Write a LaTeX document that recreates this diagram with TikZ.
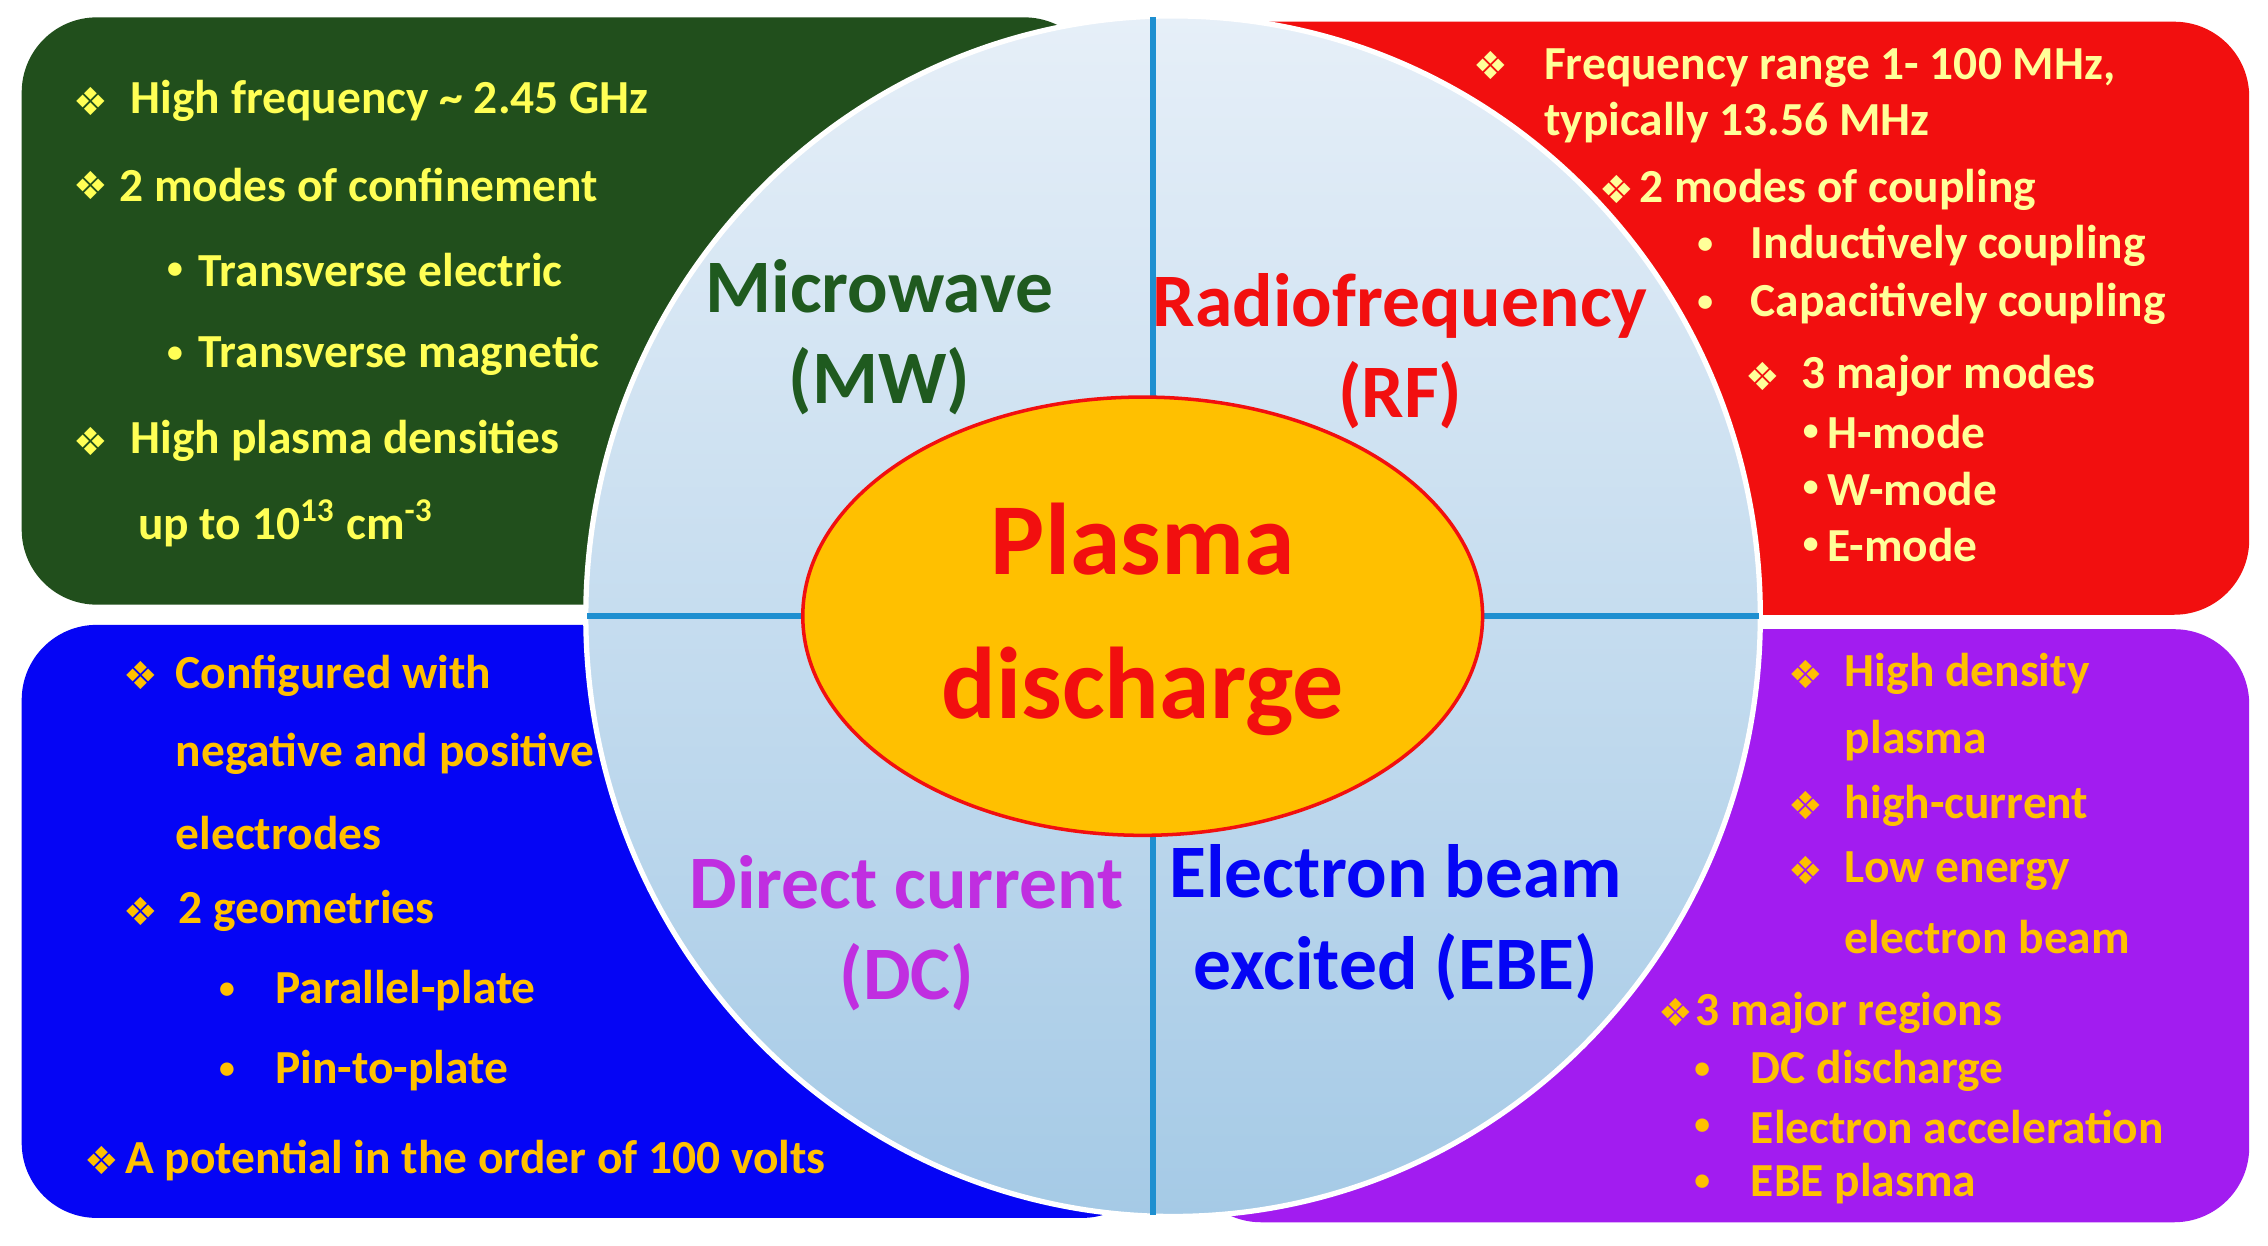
\documentclass[tikz,border=0pt]{standalone}
\usepackage{fontspec}
\setmainfont{Carlito}
\newfontfamily\djv{DejaVu Sans}
\usetikzlibrary{shapes.geometric}
\definecolor{gbox}{HTML}{214F1C}
\definecolor{rbox}{HTML}{F20F0F}
\definecolor{bbox}{HTML}{0505F5}
\definecolor{pbox}{HTML}{A21CF0}
\definecolor{ytxt}{HTML}{FFFF55}
\definecolor{ptxt}{HTML}{FFFF99}
\definecolor{otxt}{HTML}{FFC000}
\definecolor{mwg}{HTML}{1F5A1F}
\definecolor{dcp}{HTML}{C02EE0}
\definecolor{lin}{HTML}{1E8FD0}
\begin{document}
\begin{tikzpicture}[x=0.014464cm,y=-0.014464cm,
 box/.style={rounded corners=0.75cm},
 t/.style={anchor=west,font=\bfseries\fontsize{13.5}{15}\selectfont,inner sep=0},
 sb/.style={anchor=west,inner sep=0,font=\bfseries\fontsize{9}{10}\selectfont},
 big/.style={font=\bfseries\fontsize{21.5}{26}\selectfont,align=center},
 bul/.style={anchor=west,inner sep=0,font=\djv\bfseries\fontsize{11}{13}\selectfont}]
\useasboundingbox (0,0) rectangle (1568,861.4);
\fill[white] (0,0) rectangle (1568,861.4);
\fill[gbox,box] (15,12) rectangle (760,418);
\fill[rbox,box] (800,15) rectangle (1555,425);
\fill[bbox,box] (15,432) rectangle (800,842);
\fill[pbox,box] (820,435) rectangle (1555,845);
\shade[top color={rgb,255:red,230;green,239;blue,248},bottom color={rgb,255:red,165;green,202;blue,230},draw=white,line width=1.5pt] (811,426) ellipse[x radius=406,y radius=415];
\coordinate (vt) at (797,12); \coordinate (vb) at (797,840);
\coordinate (hl) at (406,426); \coordinate (hr) at (1216,426);
\draw[lin,line width=1.6pt] (vt) -- (vb);
\draw[lin,line width=1.6pt] (hl) -- (hr);
\node[ellipse,fill=otxt,draw=rbox,line width=1pt,minimum width=470*0.014464cm,minimum height=303*0.014464cm] (ell) at (790,426) {};
\node[font=\bfseries\fontsize{29}{41}\selectfont,text=rbox,align=center] (pd) at (790,428) {Plasma\\discharge};
\node[big,text=mwg] (mw) at (608,233) {Microwave\\(MW)};
\node[big,text=rbox] (rf) at (968,243) {Radiofrequency\\(RF)};
\node[big,text=dcp] (dc) at (627,645) {Direct current\\(DC)};
\node[big,text=bbox] (ebe) at (965,638) {Electron beam\\excited (EBE)};
% green
\begin{scope}[text=ytxt,color=ytxt]
\node[bul] (gb1) at (50,70) {❖}; \node[t] (g1) at (90,70) {High frequency \textasciitilde{} 2.45 GHz};
\node[bul] (gb2) at (50,128) {❖}; \node[t] (g2) at (82,128) {2 modes of confinement};
\node[sb] (gb3) at (115,187) {•}; \node[t] (g3) at (137,187) {Transverse electric};
\node[sb] (gb4) at (115,245) {•}; \node[t] (g4) at (137,245) {Transverse magnetic};
\node[bul] (gb5) at (50,305) {❖}; \node[t] (g5) at (90,305) {High plasma densities};
\node[t] (g6) at (95,362) {up to 10\textsuperscript{13} cm\textsuperscript{-3}};
\end{scope}
% red
\begin{scope}[text=ptxt]
\node[bul] (rb1) at (1018,45) {❖}; \node[t] (r1) at (1067,47) {Frequency range 1- 100 MHz,};
\node[t] (r2) at (1067,85) {typically 13.56 MHz};
\node[bul] (rb3) at (1105,131) {❖}; \node[t] (r3) at (1133,131) {2 modes of coupling};
\node[sb] (rb4) at (1173,170) {•}; \node[t] (r4) at (1210,170) {Inductively coupling};
\node[sb] (rb5) at (1173,210) {•}; \node[t] (r5) at (1210,210) {Capacitively coupling};
\node[bul] (rb6) at (1206,260) {❖}; \node[t] (r6) at (1245,260) {3 major modes};
\node[sb] (rb7) at (1246,299) {•}; \node[t] (r7) at (1263,299) {H-mode};
\node[sb] (rb8) at (1246,338) {•}; \node[t] (r8) at (1263,338) {W-mode};
\node[sb] (rb9) at (1246,377) {•}; \node[t] (r9) at (1263,377) {E-mode};
\end{scope}
% blue
\begin{scope}[text=otxt]
\node[bul] (bb1) at (85,467) {❖}; \node[t] (b1) at (121,467) {Configured with};
\node[t] (b2) at (121,521) {negative and positive};
\node[t] (b3) at (121,576) {electrodes};
\node[bul] (bb4) at (85,630) {❖}; \node[t] (b4) at (123,630) {2 geometries};
\node[sb] (bb5) at (151,685) {•}; \node[t] (b5) at (190,685) {Parallel-plate};
\node[sb] (bb6) at (151,740) {•}; \node[t] (b6) at (190,740) {Pin-to-plate};
\node[bul] (bb7) at (58,802) {❖}; \node[t] (b7) at (86,802) {A potential in the order of 100 volts};
% purple
\node[bul] (pb1) at (1236,466) {❖}; \node[t] (p1) at (1275,466) {High density};
\node[t] (p2) at (1275,512) {plasma};
\node[bul] (pb3) at (1236,557) {❖}; \node[t] (p3) at (1275,557) {high-current};
\node[bul] (pb4) at (1236,602) {❖}; \node[t] (p4) at (1275,602) {Low energy};
\node[t] (p5) at (1275,648) {electron beam};
\node[bul] (pb6) at (1146,700) {❖}; \node[t] (p6) at (1172,700) {3 major regions};
\node[sb] (pb7) at (1171,740) {•}; \node[t] (p7) at (1210,740) {DC discharge};
\node[sb] (pb8) at (1171,779) {•}; \node[t] (p8) at (1210,779) {Electron acceleration};
\node[sb] (pb9) at (1171,818) {•}; \node[t] (p9) at (1210,818) {EBE plasma};
\end{scope}
\end{tikzpicture}
\end{document}
